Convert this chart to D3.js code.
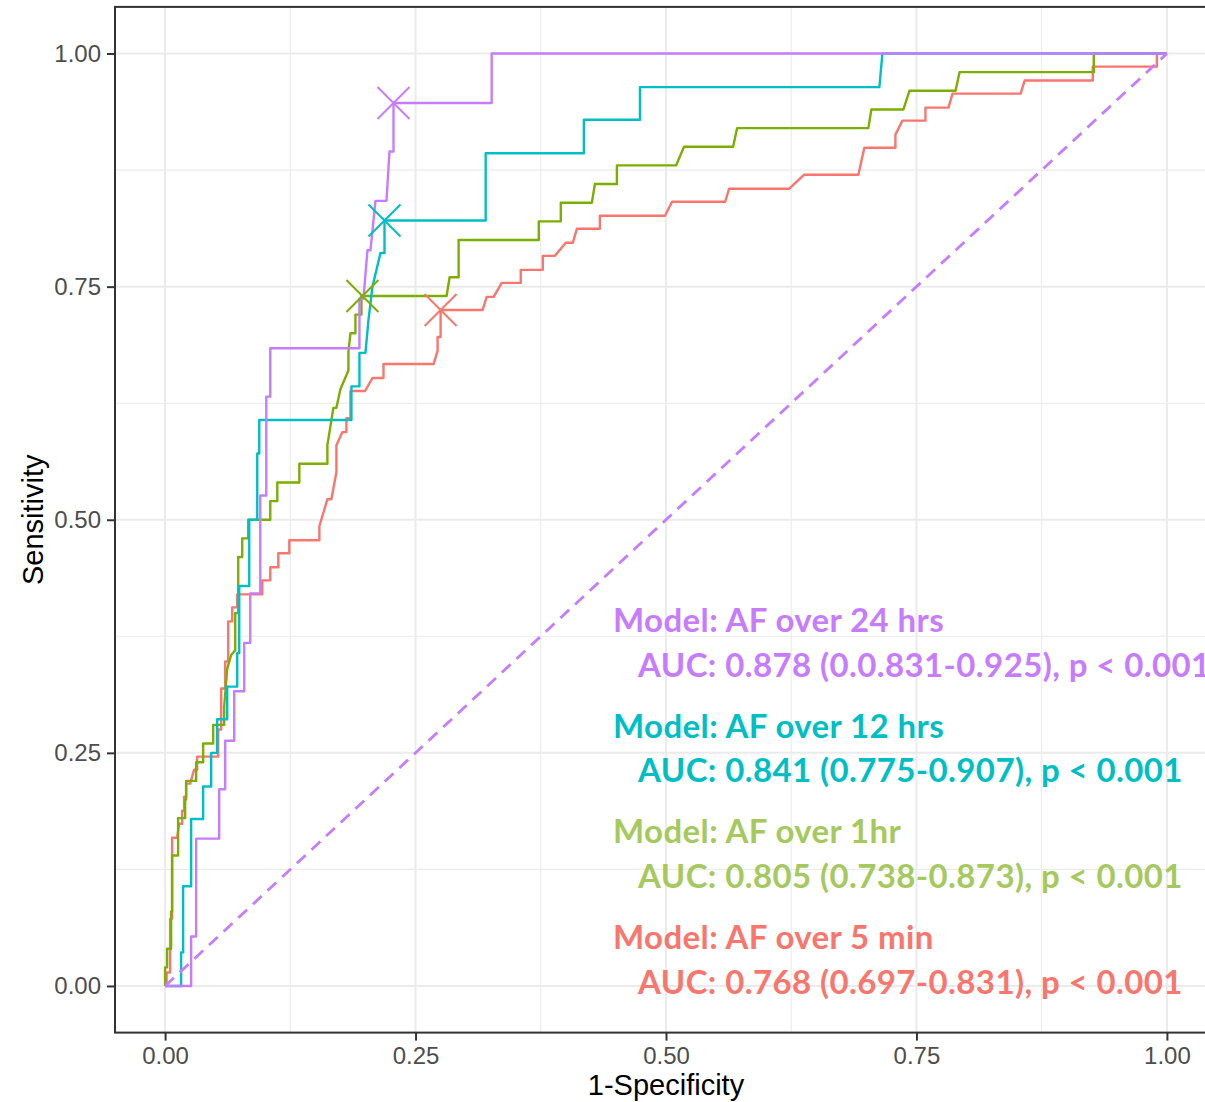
<!DOCTYPE html>
<html>
<head>
<meta charset="utf-8">
<script src="https://cdn.jsdelivr.net/npm/d3@7"></script>
<style>
body { margin: 0; background: #fff; }
text { font-family: "Liberation Sans", Arial, sans-serif; }
.note { font-family: Lato, "Open Sans", sans-serif; font-weight: 700; letter-spacing: 0.4px; }
</style>
</head>
<body>
<svg width="1205" height="1102"></svg>
<script>
// ROC curves, [1-specificity, sensitivity]
var roc24h = [[0,0],[0.026,0],[0.026,0.053],[0.031,0.053],[0.031,0.158],[0.054,0.158],[0.054,0.211],
  [0.060,0.211],[0.060,0.263],[0.069,0.263],[0.069,0.316],[0.079,0.316],[0.079,0.368],[0.085,0.368],
  [0.085,0.421],[0.095,0.421],[0.095,0.526],[0.101,0.526],[0.101,0.632],[0.105,0.632],[0.105,0.684],
  [0.194,0.684],[0.194,0.737],[0.198,0.737],[0.202,0.789],[0.205,0.789],[0.210,0.842],[0.221,0.842],
  [0.224,0.895],[0.228,0.895],[0.228,0.947],[0.326,0.947],[0.326,1],[1,1]];

var roc12h = [[0,0],[0.016,0],[0.016,0.036],[0.018,0.036],[0.018,0.107],[0.026,0.107],[0.026,0.179],
  [0.038,0.179],[0.038,0.214],[0.046,0.214],[0.046,0.25],[0.052,0.25],[0.052,0.286],[0.062,0.286],
  [0.062,0.321],[0.072,0.321],[0.072,0.357],[0.074,0.357],[0.074,0.429],[0.084,0.429],[0.084,0.5],
  [0.092,0.5],[0.092,0.571],[0.094,0.571],[0.094,0.607],[0.186,0.607],[0.186,0.643],[0.194,0.643],
  [0.194,0.679],[0.200,0.679],[0.203,0.714],[0.207,0.75],[0.215,0.786],[0.219,0.786],[0.219,0.821],
  [0.320,0.821],[0.320,0.893],[0.418,0.893],[0.418,0.929],[0.474,0.929],[0.474,0.964],[0.713,0.964],
  [0.716,1],[1,1]];

var roc1h = [[0,0],[0,0.02],[0.002,0.02],[0.002,0.04],[0.006,0.04],[0.006,0.08],[0.007,0.08],[0.007,0.14],
  [0.013,0.14],[0.013,0.18],[0.020,0.18],[0.020,0.20],[0.021,0.20],[0.021,0.22],[0.031,0.22],[0.031,0.24],
  [0.038,0.24],[0.038,0.26],[0.048,0.26],[0.048,0.28],[0.059,0.28],[0.059,0.30],[0.062,0.34],[0.066,0.355],
  [0.070,0.36],[0.070,0.40],[0.073,0.40],[0.073,0.46],[0.077,0.46],[0.077,0.48],[0.083,0.48],[0.083,0.50],
  [0.105,0.50],[0.105,0.52],[0.112,0.52],[0.112,0.54],[0.134,0.54],[0.134,0.56],[0.162,0.56],[0.162,0.58],
  [0.168,0.62],[0.171,0.62],[0.175,0.64],[0.183,0.66],[0.183,0.68],[0.185,0.70],[0.190,0.70],[0.190,0.72],
  [0.196,0.72],[0.196,0.74],[0.281,0.74],[0.284,0.76],[0.293,0.76],[0.293,0.80],[0.373,0.80],[0.373,0.82],
  [0.395,0.82],[0.395,0.84],[0.426,0.84],[0.429,0.86],[0.451,0.86],[0.451,0.88],[0.510,0.88],[0.518,0.90],
  [0.567,0.90],[0.571,0.92],[0.702,0.92],[0.705,0.94],[0.737,0.94],[0.743,0.96],[0.789,0.96],[0.793,0.98],
  [0.927,0.98],[0.927,1],[1,1]];

var roc5m = [[0,0],[0.0015,0],[0.0015,0.0145],[0.005,0.0145],[0.005,0.072],[0.007,0.072],[0.007,0.159],
  [0.012,0.159],[0.014,0.174],[0.017,0.174],[0.017,0.188],[0.019,0.188],[0.019,0.203],[0.021,0.203],
  [0.021,0.217],[0.025,0.217],[0.029,0.232],[0.032,0.232],[0.032,0.246],[0.053,0.246],[0.053,0.275],
  [0.056,0.275],[0.056,0.319],[0.060,0.319],[0.060,0.348],[0.063,0.348],[0.063,0.391],[0.067,0.391],
  [0.067,0.406],[0.072,0.406],[0.072,0.420],[0.097,0.420],[0.097,0.435],[0.105,0.435],[0.105,0.449],
  [0.113,0.449],[0.113,0.464],[0.124,0.464],[0.124,0.478],[0.154,0.478],[0.154,0.493],[0.162,0.522],
  [0.166,0.522],[0.171,0.551],[0.171,0.580],[0.177,0.594],[0.181,0.594],[0.181,0.609],[0.185,0.609],
  [0.185,0.638],[0.1995,0.638],[0.207,0.652],[0.218,0.652],[0.218,0.667],[0.268,0.667],[0.272,0.681],
  [0.272,0.696],[0.275,0.696],[0.275,0.725],[0.317,0.725],[0.321,0.739],[0.328,0.739],[0.336,0.754],
  [0.355,0.754],[0.355,0.768],[0.377,0.768],[0.377,0.783],[0.389,0.783],[0.400,0.797],[0.407,0.797],
  [0.411,0.812],[0.434,0.812],[0.434,0.826],[0.499,0.826],[0.506,0.841],[0.559,0.841],[0.563,0.855],
  [0.623,0.855],[0.638,0.870],[0.692,0.870],[0.698,0.899],[0.729,0.899],[0.729,0.913],[0.736,0.928],
  [0.759,0.928],[0.759,0.942],[0.782,0.942],[0.786,0.957],[0.854,0.957],[0.858,0.971],[0.926,0.971],
  [0.926,0.986],[0.990,0.986],[0.990,1],[1,1]];

// best thresholds marked with a cross
var cutoffs = [[0.275,0.725],[0.197,0.74],[0.219,0.821],[0.228,0.947]];

var modelNames = ["AF over 5 min", "AF over 1hr", "AF over 12 hrs", "AF over 24 hrs"];
var aucLabels = ["AUC: 0.768 (0.697-0.831), p < 0.001",
                 "AUC: 0.805 (0.738-0.873), p < 0.001",
                 "AUC: 0.841 (0.775-0.907), p < 0.001",
                 "AUC: 0.878 (0.0.831-0.925), p < 0.001"];
var lineColors = ["#F8766D", "#7CAE00", "#00BFC4", "#C77CFF"];
var textColors = ["#F8766D", "#A6C95E", "#00BFC4", "#C77CFF"];

var majorTicks = [0, 0.25, 0.5, 0.75, 1];
var minorTicks = [0.125, 0.375, 0.625, 0.875];

var curves = [roc5m, roc1h, roc12h, roc24h];

var svg = d3.select('svg');
var x = d3.scaleLinear().domain([-0.05, 1.05]).range([115, 1217]);
var y = d3.scaleLinear().domain([-0.05, 1.05]).range([1032.6, 6.9]);

svg.append('defs').append('clipPath').attr('id', 'panel')
  .append('rect').attr('x', x(-0.05)).attr('y', y(1.05))
  .attr('width', x(1.05) - x(-0.05)).attr('height', y(-0.05) - y(1.05));

var panel = svg.append('g').attr('clip-path', 'url(#panel)');

// grid
function grid(vals, w) {
  panel.append('g').selectAll('line.v').data(vals).join('line')
    .attr('x1', d => x(d)).attr('x2', d => x(d))
    .attr('y1', y(-0.05)).attr('y2', y(1.05))
    .attr('stroke', '#EBEBEB').attr('stroke-width', w);
  panel.append('g').selectAll('line.h').data(vals).join('line')
    .attr('y1', d => y(d)).attr('y2', d => y(d))
    .attr('x1', x(-0.05)).attr('x2', x(1.05))
    .attr('stroke', '#EBEBEB').attr('stroke-width', w);
}
grid(minorTicks, 1.1);
grid(majorTicks, 2);

var line = d3.line().x(d => x(d[0])).y(d => y(d[1]));

// labels sit under the curves
var noteX = 613, noteY = 632, groupStep = 105.7, lineStep = 44.5;
for (var i = 0; i < 4; i++) {
  var k = 3 - i;   // 24 hrs first from the top
  panel.append('text').attr('class', 'note')
    .attr('x', noteX).attr('y', noteY + i * groupStep)
    .attr('fill', textColors[k]).attr('font-size', 33)
    .text('Model: ' + modelNames[k]);
  panel.append('text').attr('class', 'note')
    .attr('x', noteX + 25).attr('y', noteY + i * groupStep + lineStep)
    .attr('fill', textColors[k]).attr('font-size', 33)
    .text(aucLabels[k]);
}

curves.forEach(function(c, i) {
  panel.append('path').datum(c)
    .attr('d', line)
    .attr('fill', 'none')
    .attr('stroke', lineColors[i])
    .attr('stroke-width', 2.4)
    .attr('stroke-linejoin', 'round');
});

panel.append('path').datum([[0,0],[1,1]])
  .attr('d', line)
  .attr('fill', 'none')
  .attr('stroke', '#C77CFF')
  .attr('stroke-width', 2.8)
  .attr('stroke-dasharray', '12,8');

var cross = d3.symbol(d3.symbolTimes).size(670);
panel.selectAll('path.cut').data(cutoffs).join('path')
  .attr('class', 'cut')
  .attr('transform', d => 'translate(' + x(d[0]) + ',' + y(d[1]) + ')')
  .attr('d', cross)
  .attr('fill', 'none')
  .attr('stroke', (d, i) => lineColors[i])
  .attr('stroke-width', 2);

// panel border
svg.append('rect')
  .attr('x', x(-0.05)).attr('y', y(1.05))
  .attr('width', x(1.05) - x(-0.05)).attr('height', y(-0.05) - y(1.05))
  .attr('fill', 'none').attr('stroke', '#333333').attr('stroke-width', 2);

// axes
var fmt = d3.format('.2f');
var xAxis = svg.append('g')
  .attr('transform', 'translate(0,' + y(-0.05) + ')')
  .call(d3.axisBottom(x).tickValues(majorTicks).tickFormat(fmt).tickSize(8).tickPadding(6));
var yAxis = svg.append('g')
  .attr('transform', 'translate(' + x(-0.05) + ',0)')
  .call(d3.axisLeft(y).tickValues(majorTicks).tickFormat(fmt).tickSize(8).tickPadding(6));

[xAxis, yAxis].forEach(function(a) {
  a.select('.domain').remove();
  a.selectAll('.tick line').attr('stroke', '#333333').attr('stroke-width', 2);
  a.selectAll('.tick text').attr('fill', '#4D4D4D').attr('font-size', 24)
    .attr('font-family', '"Liberation Sans", Arial, sans-serif');
});

svg.append('text')
  .attr('x', (x(-0.05) + x(1.05)) / 2).attr('y', 1095)
  .attr('text-anchor', 'middle').attr('font-size', 29).attr('fill', '#000')
  .text('1-Specificity');

svg.append('text')
  .attr('transform', 'translate(43,' + y(0.5) + ') rotate(-90)')
  .attr('text-anchor', 'middle').attr('font-size', 29).attr('fill', '#000')
  .text('Sensitivity');
</script>
</body>
</html>
